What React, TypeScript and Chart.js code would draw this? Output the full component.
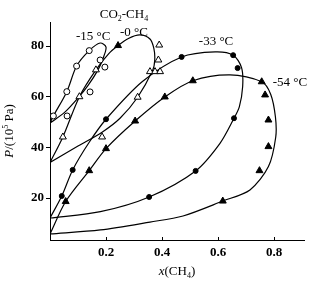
import React, { useEffect, useRef } from 'react';
import { Chart, registerables } from 'chart.js';

Chart.register(...registerables);

// ---- tick labels ----
const xTicks = [0.2, 0.4, 0.6, 0.8];
const yTicks = [20, 40, 60, 80];

// ---- phase envelope curves [x(CH4), P/(1e5 Pa)] traced around each loop ----
const curveM15: [number, number][] = [
  [0, 49.6], [0.012, 52.4], [0.06, 62.0], [0.095, 72.1], [0.14, 78.2], [0.179, 81.2],
  [0.2, 79.6], [0.19, 75.3], [0.171, 70.5], [0.136, 64.5], [0.1, 59.5], [0.054, 54.0], [0, 49.6],
];
const curve0: [number, number][] = [
  [0, 34.0], [0.046, 44.1], [0.105, 60.0], [0.164, 70.6], [0.21, 77.0], [0.243, 80.2],
  [0.28, 83.0], [0.321, 84.4], [0.357, 82.8], [0.371, 79.0], [0.374, 74.5], [0.367, 70.5],
  [0.313, 59.8], [0.25, 51.5], [0.186, 46.0], [0.1, 40.5], [0, 34.0],
];
const curveM33: [number, number][] = [
  [0, 12.1], [0.042, 20.8], [0.081, 31.1], [0.14, 42.0], [0.2, 51.1], [0.33, 66.0],
  [0.47, 75.7], [0.59, 77.7], [0.654, 76.4], [0.684, 71.5], [0.688, 64.0], [0.676, 56.0],
  [0.657, 51.5], [0.607, 41.6], [0.52, 30.7], [0.354, 20.4], [0.18, 14.6], [0, 12.1],
];
const curveM54: [number, number][] = [
  [0, 5.8], [0.056, 18.6], [0.14, 30.8], [0.2, 39.5], [0.304, 50.4], [0.41, 59.9],
  [0.51, 66.3], [0.643, 68.6], [0.756, 65.9], [0.788, 61.0], [0.805, 52.0],
  [0.806, 44.0], [0.78, 32.4], [0.714, 23.2], [0.617, 18.8], [0.475, 12.9],
  [0.357, 10.5], [0.18, 7.4], [0, 5.8],
];

// ---- measured points ----
const circlesM15: [number, number][] = [
  [0.012, 52.4], [0.06, 62.0], [0.095, 72.1], [0.14, 78.2],
  [0.179, 74.5], [0.196, 71.7], [0.143, 61.9], [0.061, 52.4],
];
const trianglesOpen0: [number, number][] = [
  [0.046, 44.1], [0.105, 60.0], [0.164, 70.6], [0.39, 80.4], [0.387, 74.5],
  [0.357, 69.9], [0.375, 69.9], [0.393, 69.9], [0.313, 59.8], [0.186, 44.1],
];
const trianglesFilled0: [number, number][] = [[0.243, 80.2]];
const dotsM33: [number, number][] = [
  [0.042, 20.8], [0.081, 31.1], [0.2, 51.1], [0.47, 75.7], [0.654, 76.4],
  [0.67, 71.3], [0.657, 51.5], [0.52, 30.7], [0.354, 20.4],
];
const trianglesM54: [number, number][] = [
  [0.056, 18.6], [0.14, 30.8], [0.2, 39.5], [0.304, 50.4], [0.41, 59.9], [0.51, 66.3],
  [0.756, 65.9], [0.768, 60.7], [0.78, 50.8], [0.78, 40.3], [0.748, 30.8], [0.617, 18.8],
];

// ---- curve labels (text, anchored in data coordinates) ----
const labelTexts = ['-15 °C', '-0 °C', '-33 °C', '-54 °C'];
const labelX = [0.154, 0.3, 0.593, 0.857];
const labelP = [83.6, 85.5, 81.6, 65.4];

const FONT = '"Liberation Serif", "DejaVu Serif", serif';

type Seg = { t: string; it?: boolean; sub?: boolean; sup?: boolean };

function drawRich(ctx: CanvasRenderingContext2D, segs: Seg[], cx: number, cy: number, size: number) {
  const fontFor = (s: Seg) =>
    `${s.it ? 'italic ' : ''}${s.sub || s.sup ? Math.round(size * 0.65) : size}px ${FONT}`;
  let total = 0;
  const widths = segs.map((s) => {
    ctx.font = fontFor(s);
    const w = ctx.measureText(s.t).width;
    total += w;
    return w;
  });
  let x = cx - total / 2;
  ctx.textAlign = 'left';
  ctx.textBaseline = 'middle';
  segs.forEach((s, i) => {
    ctx.font = fontFor(s);
    const dy = s.sub ? size * 0.3 : s.sup ? -size * 0.35 : 0;
    ctx.fillText(s.t, x, cy + dy);
    x += widths[i];
  });
}

const toPts = (a: [number, number][]) => a.map(([x, y]) => ({ x, y }));

export default function App() {
  const ref = useRef<HTMLCanvasElement | null>(null);

  useEffect(() => {
    if (!ref.current) return;

    const overlay = {
      id: 'overlay',
      afterDraw(chart: any) {
        const ctx: CanvasRenderingContext2D = chart.ctx;
        const xs = chart.scales.x;
        const ys = chart.scales.y;
        const area = chart.chartArea;
        ctx.save();
        ctx.fillStyle = '#000';
        ctx.strokeStyle = '#000';
        ctx.lineWidth = 1;
        // inward x ticks
        xTicks.forEach((v) => {
          const px = Math.round(xs.getPixelForValue(v)) + 0.5;
          ctx.beginPath();
          ctx.moveTo(px, area.bottom);
          ctx.lineTo(px, area.bottom - 3);
          ctx.stroke();
        });
        // curve labels
        labelTexts.forEach((t, i) => {
          drawRich(ctx, [{ t }], xs.getPixelForValue(labelX[i]), ys.getPixelForValue(labelP[i]), 13);
        });
        // system label
        drawRich(
          ctx,
          [{ t: 'CO' }, { t: '2', sub: true }, { t: '-CH' }, { t: '4', sub: true }],
          xs.getPixelForValue(0.264),
          ys.getPixelForValue(92.3),
          13
        );
        // x axis title
        drawRich(
          ctx,
          [{ t: 'x', it: true }, { t: '(CH' }, { t: '4', sub: true }, { t: ')' }],
          (area.left + area.right) / 2,
          272,
          13
        );
        // y axis title
        ctx.save();
        ctx.translate(10, (area.top + area.bottom) / 2);
        ctx.rotate(-Math.PI / 2);
        drawRich(
          ctx,
          [{ t: 'P', it: true }, { t: '/(10' }, { t: '5', sup: true }, { t: ' Pa)' }],
          0,
          0,
          13
        );
        ctx.restore();
        ctx.restore();
      },
    };

    const marker = (data: [number, number][], style: string, r: number, fill: string) => ({
      data: toPts(data),
      showLine: false,
      pointStyle: style,
      pointRadius: r,
      pointBackgroundColor: fill,
      pointBorderColor: '#000',
      pointBorderWidth: 1,
    });
    const curve = (data: [number, number][]) => ({
      data: toPts(data),
      showLine: true,
      pointRadius: 0,
      borderColor: '#000',
      borderWidth: 1.2,
      tension: 0.3,
      fill: false,
    });

    const chart = new Chart(ref.current, {
      type: 'scatter',
      data: {
        datasets: [
          marker(circlesM15, 'circle', 3, '#fff'),
          marker(trianglesOpen0, 'triangle', 4, '#fff'),
          marker(trianglesFilled0, 'triangle', 4, '#000'),
          marker(dotsM33, 'circle', 2.5, '#000'),
          marker(trianglesM54, 'triangle', 4, '#000'),
          curve(curveM15),
          curve(curve0),
          curve(curveM33),
          curve(curveM54),
        ] as any,
      },
      options: {
        animation: false,
        responsive: false,
        layout: { padding: { top: 22, right: 13, left: 0, bottom: 0 } },
        plugins: { legend: { display: false }, tooltip: { enabled: false } },
        scales: {
          x: {
            type: 'linear',
            min: 0,
            max: 0.907,
            afterFit: (s: any) => {
              s.height = 43;
            },
            afterBuildTicks: (s: any) => {
              s.ticks = xTicks.map((value) => ({ value }));
            },
            ticks: {
              color: '#000',
              padding: 5,
              font: { family: FONT, size: 13, weight: 'bold' },
              callback: (v: any) => Number(v).toFixed(1),
            },
            grid: { drawOnChartArea: false, drawTicks: false },
            border: { display: true, color: '#000', width: 1 },
          },
          y: {
            type: 'linear',
            min: 3.42,
            max: 89.5,
            afterFit: (s: any) => {
              s.width = 50;
            },
            afterBuildTicks: (s: any) => {
              s.ticks = yTicks.map((value) => ({ value }));
            },
            ticks: {
              color: '#000',
              padding: 2,
              font: { family: FONT, size: 13, weight: 'bold' },
            },
            grid: { drawOnChartArea: false, drawTicks: true, tickLength: 4, color: '#000' },
            border: { display: true, color: '#000', width: 1 },
          },
        },
      } as any,
      plugins: [overlay],
    });

    return () => chart.destroy();
  }, []);

  return (
    <div style={{ position: 'fixed', left: 0, top: 0, width: 317, height: 283, background: '#fff' }}>
      <canvas ref={ref} width={317} height={283} />
    </div>
  );
}
